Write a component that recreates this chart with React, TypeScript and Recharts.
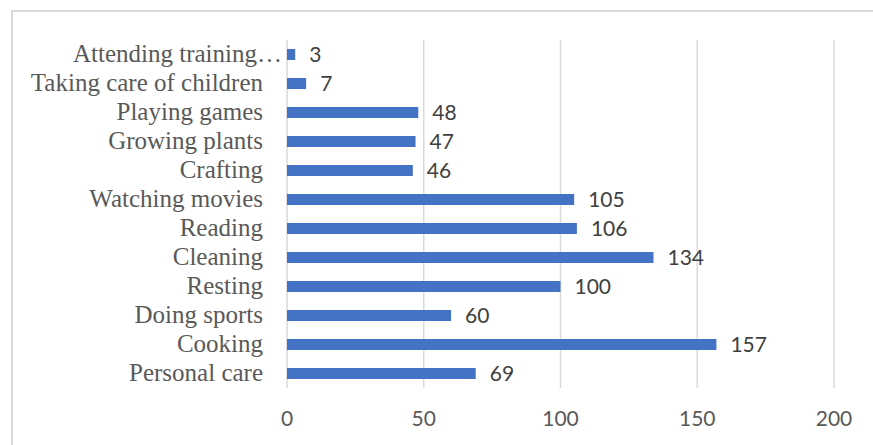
import { BarChart, Bar, XAxis, YAxis, CartesianGrid, LabelList } from 'recharts';

// categories in display order, top to bottom
const activities = [
  'Attending training…',
  'Taking care of children',
  'Playing games',
  'Growing plants',
  'Crafting',
  'Watching movies',
  'Reading',
  'Cleaning',
  'Resting',
  'Doing sports',
  'Cooking',
  'Personal care',
];
const counts = [3, 7, 48, 47, 46, 105, 106, 134, 100, 60, 157, 69];
const xTicks = [0, 50, 100, 150, 200];

const data = activities.map((name, i) => ({ name, value: counts[i] }));

const CategoryTick = (props: any) => {
  const { x, y, payload } = props;
  const label = String(payload.value);
  // Excel lets the truncated label run past the others
  const shift = label.endsWith('…') ? 19 : 0;
  return (
    <text
      x={x + shift}
      y={y}
      dy={7}
      textAnchor="end"
      fill="#595959"
      fontFamily="'Liberation Serif', serif"
      fontSize={25}
    >
      {label}
    </text>
  );
};

export default function App() {
  return (
    <div
      style={{
        position: 'absolute',
        left: 0,
        top: 0,
        width: 873,
        height: 445,
        overflow: 'hidden',
        background: '#fff',
      }}
    >
      <div
        style={{
          position: 'absolute',
          left: 11,
          top: 10,
          width: 900,
          height: 480,
          border: '2px solid #d9d9d9',
        }}
      />
      <div style={{ position: 'absolute', left: 0, top: 0 }}>
        <BarChart
          width={873}
          height={445}
          data={data}
          layout="vertical"
          margin={{ top: 40, right: 39, bottom: 7, left: 0 }}
        >
          <CartesianGrid horizontal={false} stroke="#d9d9d9" strokeWidth={1.5} />
          <XAxis
            type="number"
            domain={[0, 200]}
            ticks={xTicks}
            axisLine={false}
            tickLine={false}
            tickMargin={17}
            height={50}
            tick={{ fill: '#595959', fontSize: 21, fontFamily: 'Lato' }}
          />
          <YAxis
            type="category"
            dataKey="name"
            width={287}
            axisLine={false}
            tickLine={false}
            tickMargin={18}
            interval={0}
            tick={<CategoryTick />}
          />
          <Bar dataKey="value" fill="#4472C4" barSize={11} isAnimationActive={false}>
            <LabelList
              dataKey="value"
              position="right"
              offset={14}
              fill="#404040"
              fontSize={21}
              fontFamily="Lato"
            />
          </Bar>
        </BarChart>
      </div>
    </div>
  );
}
